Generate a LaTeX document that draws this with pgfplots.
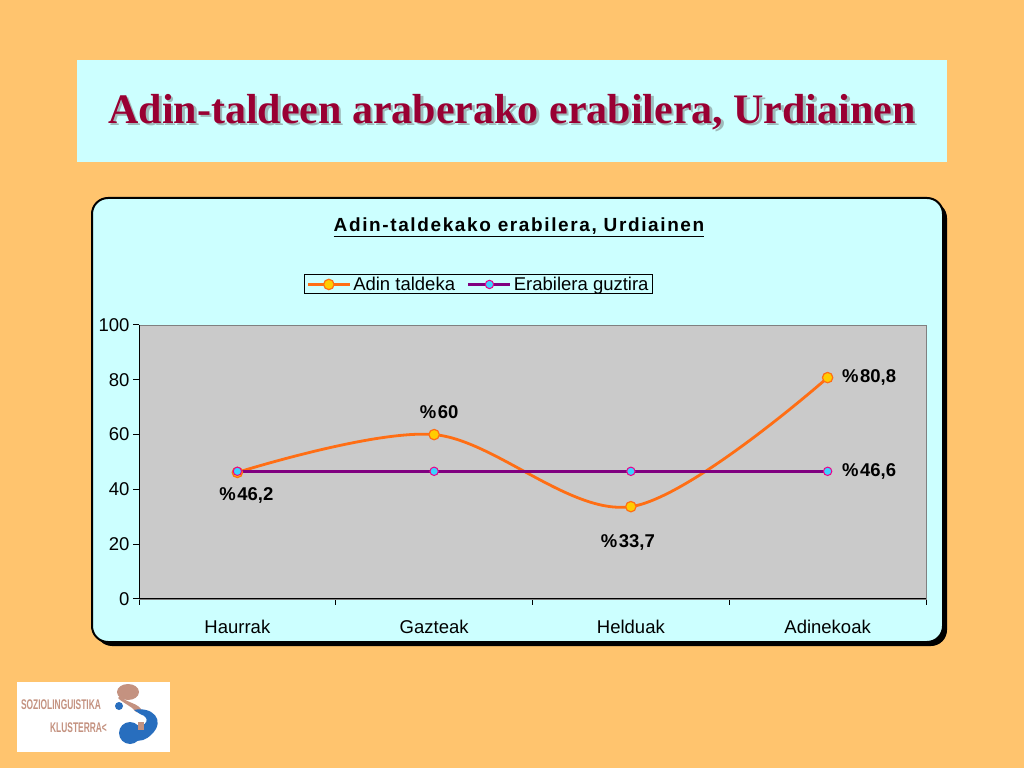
\documentclass[border=0pt]{standalone}
\usepackage{fontspec}
\setmainfont{Liberation Sans}
\newfontfamily\titlefont{Liberation Serif}
\newfontfamily\spacedfont[LetterSpace=8.5]{Liberation Sans}
\usepackage{pgfplots}
\pgfplotsset{compat=1.18}

\definecolor{slidebg}{RGB}{255,196,110}
\definecolor{boxcyan}{RGB}{204,255,255}
\definecolor{titlered}{RGB}{153,0,51}
\definecolor{plotgray}{RGB}{202,202,202}
\definecolor{lineorange}{RGB}{255,110,20}
\definecolor{markyellow}{RGB}{255,204,0}
\definecolor{linepurple}{RGB}{128,0,128}
\definecolor{markcyan}{RGB}{60,210,255}
\definecolor{logotan}{RGB}{196,146,128}
\definecolor{logoblue}{RGB}{40,110,190}

\begin{document}
\begin{tikzpicture}[x=1pt,y=1pt]
% slide (pixel units, y counted from the bottom)
\useasboundingbox (0,0) rectangle (1024,768);
\fill[slidebg] (0,0) rectangle (1024,768);

% title box
\fill[boxcyan] (77,606) rectangle (947,708);
\node[font=\titlefont\bfseries\fontsize{42}{48}\selectfont, text=black!60, opacity=0.45] at (514.5,653.5) {Adin-taldeen araberako erabilera, Urdiainen};
\node[font=\titlefont\bfseries\fontsize{42}{48}\selectfont, text=titlered] at (512,656) {Adin-taldeen araberako erabilera, Urdiainen};

% chart box with shadow
\fill[black, rounded corners=16pt] (96,122) rectangle (947,566);
\draw[black, line width=2pt, fill=boxcyan, rounded corners=16pt] (92,126) rectangle (943,570);
\node[font=\spacedfont\bfseries\fontsize{19}{22}\selectfont] at (519,541) {\underline{Adin-taldekako erabilera, Urdiainen}};

% logo
\fill[white] (17,16) rectangle (170,86);
\node[font=\bfseries\fontsize{14}{15}\selectfont, text=logotan, xscale=0.6, anchor=east, inner sep=0pt] at (101,63) {SOZIOLINGUISTIKA};
\node[font=\bfseries\fontsize{14}{15}\selectfont, text=logotan, xscale=0.6, anchor=east, inner sep=0pt] at (107,40) {KLUSTERRA<};
\fill[logotan] (128,76) ellipse (11 and 8);
\fill[logotan] (120,72) .. controls (128,64) and (138,66) .. (143,56) -- (136,56) .. controls (132,62) and (124,64) .. (118,70) -- cycle;
\fill[logoblue] (119,62) circle (4);
\fill[logoblue] (130,35) circle (11);
\fill[logoblue] (134,58) .. controls (152,62) and (166,48) .. (152,34) .. controls (146,28) and (140,26) .. (134,28) -- (136,40) .. controls (146,42) and (152,50) .. (140,54) -- cycle;
\fill[logotan] (138,38) rectangle (144,46);

\begin{axis}[
  at={(139pt,169pt)}, anchor=south west,
  scale only axis, width=787pt, height=274pt,
  xmin=-0.5, xmax=3.5, ymin=0, ymax=100,
  ytick={0,20,...,100},
  xtick={-0.5,0.5,1.5,2.5,3.5}, xticklabels={},
  extra x ticks={0,1,2,3},
  extra x tick labels={Haurrak,Gazteak,Helduak,Adinekoak},
  extra x tick style={tick style={draw=none}, tick label style={yshift=-12pt}},
  tick pos=left, tick align=outside, major tick length=6pt,
  tick style={black, line width=1pt},
  axis background/.style={fill=plotgray},
  axis line style={draw=gray, line width=0.8pt},
  ticklabel style={font=\fontsize{18.5}{21}\selectfont},
  /pgf/number format/assume math mode=true,
  legend style={at={(0.4314,1.148)}, anchor=center, draw=black, line width=1pt,
    fill=boxcyan, font=\fontsize{18.5}{21}\selectfont, legend columns=2,
    inner xsep=2pt, inner ysep=0pt,
    /tikz/every even column/.append style={column sep=10pt}},
  legend image code/.code={\draw[mark repeat=2, mark phase=2] plot coordinates {(0pt,0pt) (21pt,0pt) (42pt,0pt)};},
]
\addplot[color=lineorange, line width=2.8pt, smooth, tension=0.55,
  mark=*, mark size=5.2pt, mark options={fill=markyellow, draw=lineorange, line width=1.2pt}]
  coordinates {(0,46.2) (1,60) (2,33.7) (3,80.8)};
\addlegendentry{Adin taldeka}
\addplot[color=linepurple, line width=2.8pt,
  mark=*, mark size=4.2pt, mark options={fill=markcyan, draw=magenta, line width=1pt}]
  coordinates {(0,46.6) (1,46.6) (2,46.6) (3,46.6)};
\addlegendentry{Erabilera guztira}

\draw[black, line width=1.4pt] (rel axis cs:0,1) -- (rel axis cs:0,0) -- (rel axis cs:1,0);

\begin{scope}[every node/.style={font=\bfseries\fontsize{18.5}{21}\selectfont}]
\node at (axis cs:0,46.2) [xshift=9pt, yshift=-23pt] {\%\kern1.5pt46,2};
\node at (axis cs:1,60) [xshift=5pt, yshift=22pt] {\%\kern1.5pt60};
\node at (axis cs:2,33.7) [xshift=-3pt, yshift=-36pt] {\%\kern1.5pt33,7};
\node at (axis cs:3,80.8) [anchor=west, xshift=11pt] {\%\kern1.5pt80,8};
\node at (axis cs:3,46.6) [anchor=west, xshift=11pt] {\%\kern1.5pt46,6};
\end{scope}
\end{axis}
\end{tikzpicture}
\end{document}
